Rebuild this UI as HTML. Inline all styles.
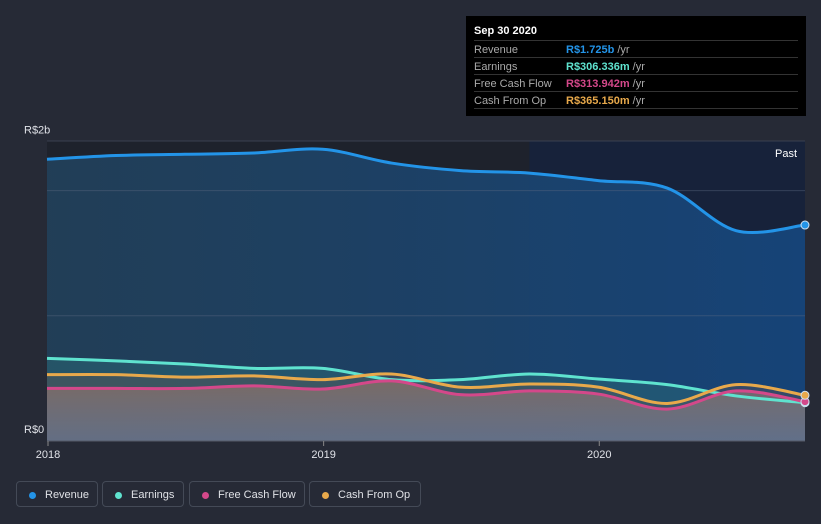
<!DOCTYPE html>
<html><head><meta charset="utf-8"><style>
body{margin:0;background:#262a36;font-family:"Liberation Sans",sans-serif;}
#wrap{position:relative;width:821px;height:524px;overflow:hidden;}
.tt{position:absolute;left:466px;top:16px;width:340px;height:100px;background:#000;color:#fff;font-size:11px;}
.tt .row{position:absolute;left:8px;width:324px;height:16px;border-top:1px solid #333;}
.tt .row span{position:absolute;top:3px;}
.legend{position:absolute;top:481px;height:26px;border:1px solid #444a57;border-radius:4px;color:#dfe1e6;font-size:11px;line-height:26px;box-sizing:border-box;}
.legend i{position:absolute;left:12px;top:10px;width:7px;height:7px;border-radius:50%;}
.legend span{position:absolute;left:28px;}
</style></head><body>
<div id="wrap">
<svg id="svg" width="821" height="524" style="position:absolute;left:0;top:0"></svg>
<div class="tt">
<div style="position:absolute;left:8px;top:9px;font-weight:bold;font-size:11px">Sep 30 2020</div>
<div class="row" style="top:24px"><span style="color:#aaa">Revenue</span><span style="left:92px;color:#2394e8;font-weight:bold">R$1.725b <b style="color:#aaa;font-weight:normal">/yr</b></span></div>
<div class="row" style="top:41px"><span style="color:#aaa">Earnings</span><span style="left:92px;color:#5fe3cf;font-weight:bold">R$306.336m <b style="color:#aaa;font-weight:normal">/yr</b></span></div>
<div class="row" style="top:58px"><span style="color:#aaa">Free Cash Flow</span><span style="left:92px;color:#d4488a;font-weight:bold">R$313.942m <b style="color:#aaa;font-weight:normal">/yr</b></span></div>
<div class="row" style="top:75px;border-bottom:1px solid #333"><span style="color:#aaa">Cash From Op</span><span style="left:92px;color:#e8a94b;font-weight:bold">R$365.150m <b style="color:#aaa;font-weight:normal">/yr</b></span></div>
</div>
<div class="legend" style="left:16px;width:82px"><i style="background:#2394e8"></i><span>Revenue</span></div>
<div class="legend" style="left:102px;width:82px"><i style="background:#5fe3cf"></i><span>Earnings</span></div>
<div class="legend" style="left:189px;width:116px"><i style="background:#d4488a"></i><span>Free Cash Flow</span></div>
<div class="legend" style="left:309px;width:112px"><i style="background:#e8a94b"></i><span>Cash From Op</span></div>
</div>
<script>
const times=[2018,2018.25,2018.5,2018.75,2019,2019.25,2019.5,2019.75,2020,2020.25,2020.5,2020.75];
const revenue=[2.25,2.28,2.29,2.30,2.33,2.22,2.16,2.14,2.08,2.02,1.68,1.725];
const earnings=[0.66,0.64,0.615,0.58,0.58,0.49,0.49,0.535,0.495,0.45,0.36,0.306];
const cfo=[0.53,0.53,0.51,0.52,0.49,0.535,0.43,0.455,0.43,0.30,0.45,0.365];
const fcf=[0.42,0.42,0.42,0.44,0.415,0.48,0.37,0.40,0.375,0.255,0.40,0.314];
const yTicks=[0,2];const yTickLabels=["R$0","R$2b"];
const xTicks=[2018,2019,2020];
const NS="http://www.w3.org/2000/svg",svg=document.getElementById('svg');
const X0=47,X1=805,T0=2018,T1=2020.75,Y0=441,PX=125.2,TOP=141;
const x=t=>X0+(t-T0)/(T1-T0)*(X1-X0), y=v=>Y0-v*PX;
function mk(tag,a,p){const e=document.createElementNS(NS,tag);for(const k in a)e.setAttribute(k,a[k]);(p||svg).appendChild(e);return e;}
const defs=mk('defs',{});
defs.innerHTML='<linearGradient id="gb" x1="0" y1="0" x2="1" y2="0"><stop offset="0" stop-color="#22435e" stop-opacity="0.85"/><stop offset="1" stop-color="#16477e" stop-opacity="0.9"/></linearGradient><linearGradient id="gl" x1="0" y1="0" x2="0" y2="1"><stop offset="0" stop-color="#a27868" stop-opacity="0.6"/><stop offset="1" stop-color="#8a88a8" stop-opacity="0.5"/></linearGradient>';
let r=mk('rect',{x:X0,y:TOP,width:X1-X0,height:Y0-TOP,fill:'#1e222c'});
let h=mk('rect',{x:x(2019.75),y:TOP,width:X1-x(2019.75),height:Y0-TOP,fill:'#17223a'});
mk('line',{x1:X0,x2:X1,y1:TOP,y2:TOP,stroke:'#3a4050'});
function path(vals){let pts=times.map((t,i)=>[x(t),y(vals[i])]);let d='M'+pts[0];for(let i=0;i<pts.length-1;i++){const p0=pts[Math.max(0,i-1)],p1=pts[i],p2=pts[i+1],p3=pts[Math.min(pts.length-1,i+2)];const c1=[p1[0]+(p2[0]-p0[0])/6,p1[1]+(p2[1]-p0[1])/6],c2=[p2[0]-(p3[0]-p1[0])/6,p2[1]-(p3[1]-p1[1])/6];d+=' C'+c1+' '+c2+' '+p2;}return d;}
const base=' L'+x(T1)+','+Y0+' L'+x(T0)+','+Y0+' Z';
let a=mk('path',{d:path(revenue)+base,fill:'url(#gb)'});
a=mk('path',{d:path(earnings)+base,fill:'#2a6a78',opacity:0.5});
a=mk('path',{d:path(cfo)+base,fill:'#6a5a50',opacity:0.35});
a=mk('path',{d:path(fcf)+base,fill:'url(#gl)'});
[1,2].forEach(v=>{let g=mk('line',{x1:X0,x2:X1,y1:y(v),y2:y(v),stroke:'#5a6880','stroke-opacity':0.45});});
[[revenue,'#2394e8','revenue-line'],[earnings,'#5fe3cf','earnings-line'],[fcf,'#d4488a','fcf-line'],[cfo,'#e8a94b','cfo-line']].forEach(([v,c,n])=>{
 let l=mk('path',{d:path(v),fill:'none',stroke:c,'stroke-width':3});
 let d=mk('circle',{cx:x(T1),cy:y(v[v.length-1]),r:4,fill:c,stroke:'#cfe0f0','stroke-width':1});
});
mk('line',{x1:X0,x2:X1,y1:Y0,y2:Y0,stroke:'#555b68'});
yTicks.forEach((v,i)=>{let t=mk('text',{x:24,y:(v===0?y(v)-8:y(v)-57),fill:'#e0e2e8','font-size':11});t.textContent=yTickLabels[i];});
xTicks.forEach(v=>{mk('line',{x1:x(v)+1,x2:x(v)+1,y1:Y0,y2:Y0+5,stroke:'#888'});let t=mk('text',{x:x(v)+1,y:Y0+17,fill:'#e0e2e8','font-size':11,'text-anchor':'middle'});t.textContent=v;});
let p=mk('text',{x:797,y:157,fill:'#fff','font-size':11,'text-anchor':'end'});p.textContent='Past';
</script>
</body></html>
